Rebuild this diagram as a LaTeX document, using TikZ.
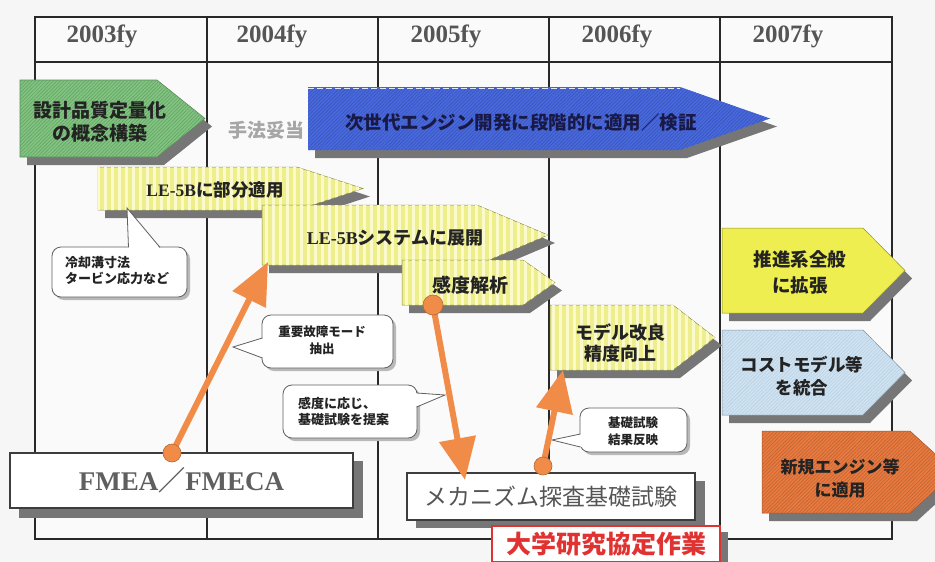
\documentclass[tikz,border=0pt]{standalone}
\usepackage{fontspec}
\setmainfont{Liberation Serif}
\newfontfamily\jp{Noto Sans CJK JP}
\usetikzlibrary{arrows.meta,patterns.meta,calc}
\definecolor{bgc}{RGB}{246,246,246}
\definecolor{tablec}{RGB}{250,250,250}
\definecolor{linec}{RGB}{40,40,40}
\definecolor{shadc}{RGB}{118,118,118}
\definecolor{greenc}{RGB}{128,196,128}
\definecolor{bluec}{RGB}{72,104,222}
\definecolor{navyc}{RGB}{25,25,70}
\definecolor{ylwc}{RGB}{238,238,140}
\definecolor{ylwstripe}{RGB}{250,250,205}
\definecolor{ylwtwo}{RGB}{238,238,80}
\definecolor{lbluec}{RGB}{205,226,242}
\definecolor{orngc}{RGB}{232,122,64}
\definecolor{arrc}{RGB}{240,140,72}
\definecolor{txtc}{RGB}{35,35,35}
\definecolor{redc}{RGB}{225,50,50}
\definecolor{hdrc}{RGB}{85,85,85}
\definecolor{fmeac}{RGB}{95,95,95}
\newcommand\jpb[2]{\jp\bfseries\fontsize{#1}{#2}\selectfont}
\newcommand\penta[6]{%
  \fill[shadc,shift={(7,8)}] (#2,#3) -- (#4,#3) -- (#5,{(#3+#6)/2}) -- (#4,#6) -- (#2,#6) -- cycle;
  \path[#1] (#2,#3) -- (#4,#3) -- (#5,{(#3+#6)/2}) -- (#4,#6) -- (#2,#6) -- cycle;}
\begin{document}
\begin{tikzpicture}[x=1pt,y=-1pt,
  gfill/.style={fill=greenc,draw=greenc!70!black,line width=0.6pt,postaction={pattern={Lines[angle=45,distance=2.5pt,line width=0.5pt]},pattern color=greenc!80!black}},
  bfill/.style={fill=bluec,postaction={pattern={Lines[angle=45,distance=2.5pt,line width=0.5pt]},pattern color=bluec!80!black}},
  yfill/.style={fill=ylwc,draw=ylwc!60!black,line width=0.5pt,postaction={pattern={Lines[angle=90,distance=7pt,line width=3pt]},pattern color=ylwstripe}},
  y2fill/.style={fill=ylwtwo,draw=ylwtwo!60!black,line width=0.5pt},
  lbfill/.style={fill=lbluec,draw=lbluec!60!black,line width=0.5pt,postaction={pattern={Lines[angle=45,distance=2.5pt,line width=0.4pt]},pattern color=lbluec!90!black}},
  ofill/.style={fill=orngc,draw=orngc!70!black,line width=0.5pt,postaction={pattern={Lines[angle=45,distance=2.5pt,line width=0.5pt]},pattern color=orngc!80!black}},
  lbl/.style={align=center,text=txtc,inner sep=0pt},
  yearlbl/.style={font=\rmfamily\bfseries\fontsize{25}{28}\selectfont,text=hdrc,inner sep=0pt},
  cbox/.style={fill=white,draw=gray!75!black,line width=0.8pt,rounded corners=9pt},
  cshad/.style={fill=gray!55,rounded corners=9pt},
  ctail/.style={draw=gray!75!black,line width=0.8pt},
  oarrow/.style={draw=arrc,line width=6pt,-{Triangle[width=36pt,length=42pt]}},
  odot/.style={fill=arrc,draw=arrc!75!black,line width=0.6pt},
  wbox/.style={fill=white,draw=linec!90,line width=1.1pt,inner sep=0pt}
]
\useasboundingbox (0,0) rectangle (935,562);
\clip (0,0) rectangle (935,562);
\fill[bgc] (0,0) rectangle (935,562);

% table
\fill[tablec] (35,17) rectangle (892,539);
\foreach \x in {207,378,549,720} \draw[linec,line width=1.5pt] (\x,17) -- (\x,539);
\draw[linec,line width=2pt] (35,62) -- (892,62);
\draw[linec,line width=2pt] (35,17) rectangle (892,539);
\node[yearlbl] (y3) at (102,36) {2003fy};
\node[yearlbl] (y4) at (272,36) {2004fy};
\node[yearlbl] (y5) at (446,36) {2005fy};
\node[yearlbl] (y6) at (617,36) {2006fy};
\node[yearlbl] (y7) at (788,36) {2007fy};

% concept
\penta{gfill}{20}{80}{157}{205}{157}
\node[lbl,font=\jpb{19}{23}] (concept) at (100,122) {設計品質定量化\\の概念構築};
\node[lbl,font=\jpb{19}{23},text=gray!70] (valid) at (266,130) {手法妥当};
% next generation
\penta{bfill}{308}{87}{680}{770}{150}
\draw[white!85!bluec,line width=1pt,dash pattern=on 6pt off 3pt] (308,88) -- (680,88);
\node[lbl,font=\jpb{18.5}{22},text=navyc] (nextgen) at (521,123) {次世代エンジン開発に段階的に適用／検証};
% LE-5B
\penta{yfill}{98}{167}{297}{363}{210}
\node[lbl,font=\jpb{17.5}{20}] (le5b) at (215,190) {{\rmfamily\bfseries LE-5B}に部分適用};
\penta{yfill}{262}{205}{477}{548}{265}
\node[lbl,font=\jpb{18}{21}] (le5bsys) at (395,238) {{\rmfamily\bfseries LE-5B}システムに展開};
\penta{yfill}{402}{260}{523}{555}{305}
\node[lbl,font=\jpb{19}{23}] (kando) at (470,285) {感度解析};
\penta{yfill}{550}{305}{673}{715}{370}
\node[lbl,font=\jpb{18}{21}] (model) at (620,343) {モデル改良\\精度向上};
% 2007
\penta{y2fill}{722}{228}{863}{905}{313}
\node[lbl,font=\jpb{18.5}{26}] (suishin) at (800,272) {推進系全般\\に拡張};
\penta{lbfill}{722}{330}{863}{905}{415}
\node[lbl,font=\jpb{17.5}{23}] (cost) at (802,376) {コストモデル等\\を統合};
\penta{ofill}{762}{431}{910}{955}{513}
\node[lbl,font=\jpb{17}{23}] (shinki) at (840,479) {新規エンジン等\\に適用};

% bottom boxes
\fill[shadc] (19,461) rectangle (363,518);
\node[wbox,minimum width=343pt,minimum height=55pt,font=\rmfamily\bfseries\fontsize{27}{30}\selectfont,text=fmeac] (fmea) at (181.5,480.5) {FMEA{\jp ／}FMECA};
\fill[shadc] (416,481) rectangle (705,528);
\node[wbox,minimum width=288pt,minimum height=47pt,font=\jp\fontsize{23}{26}\selectfont,text=hdrc] (mech) at (551,496.5) {メカニズム探査基礎試験};
\fill[shadc] (500,532) rectangle (728,570);
\node[wbox,draw=redc,line width=2pt,minimum width=228pt,minimum height=36pt,font=\jpb{25}{28},text=redc] (univ) at (606,544) {大学研究協定作業};

% callouts
\fill[cshad,shift={(3,3)}] (52,247) rectangle (187,297);
\draw[cbox] (52,247) rectangle (187,297);
\fill[white] (128.5,249) -- (127,208) -- (160,249) -- cycle;
\draw[ctail] (128.5,247.4) -- (127,208) -- (160,247.4);
\node[lbl,font=\jpb{13}{16},align=left,anchor=west] (c1) at (65,271) {冷却溝寸法\\タービン応力など};

\fill[cshad,shift={(3,3)}] (262,315) rectangle (393,368);
\draw[cbox] (262,315) rectangle (393,368);
\fill[white] (264,338) -- (233,347) -- (264,358) -- cycle;
\draw[ctail] (262.4,338) -- (233,347) -- (262.4,358);
\node[lbl,font=\jpb{12.5}{17}] (c2) at (322,340) {重要故障モード\\抽出};

\fill[cshad,shift={(3,3)}] (283,385) rectangle (417,438);
\draw[cbox] (283,385) rectangle (417,438);
\fill[white] (415,393) -- (445,395) -- (415,407) -- cycle;
\draw[ctail] (416.6,393) -- (445,395) -- (416.6,407);
\node[lbl,font=\jpb{13}{16},align=left,anchor=west] (c3) at (298,411) {感度に応じ、\\基礎試験を提案};

\fill[cshad,shift={(3,3)}] (580,408) rectangle (687,452);
\draw[cbox] (580,408) rectangle (687,452);
\fill[white] (582,434) -- (552,440) -- (582,447) -- cycle;
\draw[ctail] (580.4,434) -- (552,440) -- (580.4,447);
\node[lbl,font=\jpb{12.5}{17}] (c4) at (633,431) {基礎試験\\結果反映};

% orange arrows
\coordinate (s1) at (172,453);
\coordinate (e1) at (268,262);
\coordinate (s2) at (433,305);
\coordinate (e2) at (465,480);
\coordinate (s3) at (543,466);
\coordinate (e3) at (563,370);
\draw[oarrow] (s1) -- (e1);
\draw[oarrow] (s2) -- (e2);
\draw[oarrow] (s3) -- (e3);
\fill[odot] (s1) circle (9);
\fill[odot] (s2) circle (10);
\fill[odot] (s3) circle (9);
\end{tikzpicture}
\end{document}
